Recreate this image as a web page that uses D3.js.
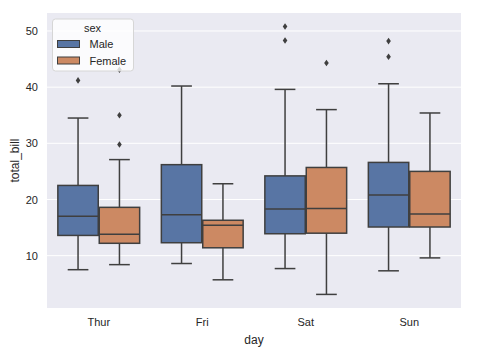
<!DOCTYPE html>
<html>
<head>
<meta charset="utf-8">
<script src="https://cdn.jsdelivr.net/npm/d3@7"></script>
<style>
  body { margin: 0; background: #fff; }
  text { font-family: "Liberation Sans", Arial, sans-serif; fill: #262626; }
</style>
</head>
<body>
<div id="chart"></div>
<script>
var days = ["Thur", "Fri", "Sat", "Sun"];
var sexes = ["Male", "Female"];
var yTicks = [10, 20, 30, 40, 50];

// per sex, one value per day
var whiskerLow = { Male: [7.5, 8.6, 7.7, 7.3], Female: [8.4, 5.7, 3.1, 9.6] };
var q1 = { Male: [13.6, 12.3, 13.9, 15.1], Female: [12.2, 11.4, 14.0, 15.1] };
var median = { Male: [17.0, 17.3, 18.3, 20.8], Female: [13.8, 15.4, 18.4, 17.4] };
var q3 = { Male: [22.5, 26.2, 24.2, 26.6], Female: [18.6, 16.3, 25.7, 25.0] };
var whiskerHigh = { Male: [34.5, 40.2, 39.6, 40.6], Female: [27.1, 22.8, 36.0, 35.4] };
var outliers = {
  Male: [[41.2], [], [48.3, 50.8], [45.4, 48.2]],
  Female: [[29.8, 35.0, 43.1], [], [44.3], []]
};

var colors = { Male: "#5875a4", Female: "#cc8963" };
var edge = "#3f3f3f";

var width = 478, height = 349,
    margin = { top: 13, right: 17, bottom: 41, left: 47 };

var svg = d3.select("#chart").append("svg")
  .attr("width", width)
  .attr("height", height);

var x = d3.scaleBand()
  .domain(days)
  .range([margin.left, width - margin.right])
  .padding(0);

var hue = d3.scaleBand()
  .domain(sexes)
  .range([x.bandwidth() * 0.1, x.bandwidth() * 0.9]);

var y = d3.scaleLinear()
  .domain([0.68, 53.2])
  .range([height - margin.bottom, margin.top]);

svg.append("rect")
  .attr("x", margin.left)
  .attr("y", margin.top)
  .attr("width", width - margin.left - margin.right)
  .attr("height", height - margin.top - margin.bottom)
  .style("fill", "#eaeaf2");

// grid
svg.selectAll(".grid")
  .data(yTicks)
  .enter()
  .append("line")
  .attr("x1", margin.left)
  .attr("x2", width - margin.right)
  .attr("y1", function(d){ return y(d); })
  .attr("y2", function(d){ return y(d); })
  .style("stroke", "#fff")
  .style("stroke-width", 1);

var yAxis = svg.append("g")
  .attr("transform", "translate(" + margin.left + ",0)")
  .call(d3.axisLeft(y).tickValues(yTicks).tickSize(0).tickPadding(9));
yAxis.select(".domain").remove();
yAxis.selectAll("text").style("font-size", "11px");

var xAxis = svg.append("g")
  .attr("transform", "translate(0," + (height - margin.bottom) + ")")
  .call(d3.axisBottom(x).tickSize(0).tickPadding(10));
xAxis.select(".domain").remove();
xAxis.selectAll("text").style("font-size", "11px");

svg.append("text")
  .attr("x", (margin.left + width - margin.right) / 2)
  .attr("y", 344)
  .attr("text-anchor", "middle")
  .style("font-size", "12px")
  .text("day");

svg.append("text")
  .attr("transform", "translate(19," + ((margin.top + height - margin.bottom) / 2) + ") rotate(-90)")
  .attr("text-anchor", "middle")
  .style("font-size", "12px")
  .text("total_bill");

// build box rows
var boxes = [];
sexes.forEach(function(s){
  days.forEach(function(d, i){
    boxes.push({
      day: d, sex: s,
      lo: whiskerLow[s][i], q1: q1[s][i], med: median[s][i],
      q3: q3[s][i], hi: whiskerHigh[s][i], out: outliers[s][i]
    });
  });
});

var g = svg.selectAll(".box")
  .data(boxes)
  .enter()
  .append("g")
  .attr("transform", function(d){ return "translate(" + (x(d.day) + hue(d.sex)) + ",0)"; });

var bw = hue.bandwidth();

// whiskers
g.append("line")
  .attr("x1", bw / 2).attr("x2", bw / 2)
  .attr("y1", function(d){ return y(d.lo); })
  .attr("y2", function(d){ return y(d.q1); })
  .style("stroke", edge).style("stroke-width", 1.5);
g.append("line")
  .attr("x1", bw / 2).attr("x2", bw / 2)
  .attr("y1", function(d){ return y(d.q3); })
  .attr("y2", function(d){ return y(d.hi); })
  .style("stroke", edge).style("stroke-width", 1.5);

// caps
["lo", "hi"].forEach(function(k){
  g.append("line")
    .attr("x1", bw / 4).attr("x2", bw * 3 / 4)
    .attr("y1", function(d){ return y(d[k]); })
    .attr("y2", function(d){ return y(d[k]); })
    .style("stroke", edge).style("stroke-width", 1.5);
});

g.append("rect")
  .attr("x", 0.5)
  .attr("width", bw - 1)
  .attr("y", function(d){ return y(d.q3); })
  .attr("height", function(d){ return y(d.q1) - y(d.q3); })
  .style("fill", function(d){ return colors[d.sex]; })
  .style("stroke", edge)
  .style("stroke-width", 1.5);

g.append("line")
  .attr("x1", 0.5).attr("x2", bw - 0.5)
  .attr("y1", function(d){ return y(d.med); })
  .attr("y2", function(d){ return y(d.med); })
  .style("stroke", edge).style("stroke-width", 1.5);

// outliers as diamonds
g.selectAll(".out")
  .data(function(d){ return d.out; })
  .enter()
  .append("path")
  .attr("d", function(v){
    var cx = bw / 2, cy = y(v);
    return "M" + cx + "," + (cy - 3.3) + "L" + (cx + 2.3) + "," + cy +
      "L" + cx + "," + (cy + 3.3) + "L" + (cx - 2.3) + "," + cy + "Z";
  })
  .style("fill", edge);

// legend
var legend = svg.append("g");
legend.append("rect")
  .attr("x", 52.5).attr("y", 19)
  .attr("width", 81).attr("height", 52)
  .attr("rx", 3)
  .style("fill", "#ffffff").style("fill-opacity", 0.8)
  .style("stroke", "#d6d6d6").style("stroke-width", 1);
legend.append("text")
  .attr("x", 92.5).attr("y", 32)
  .attr("text-anchor", "middle")
  .style("font-size", "11px")
  .text("sex");
sexes.forEach(function(s, i){
  legend.append("rect")
    .attr("x", 57.5).attr("y", 40.5 + i * 16.5)
    .attr("width", 22).attr("height", 7)
    .style("fill", colors[s])
    .style("stroke", edge).style("stroke-width", 1);
  legend.append("text")
    .attr("x", 89.5).attr("y", 48 + i * 16.5)
    .style("font-size", "11px")
    .text(s);
});
</script>
</body>
</html>
